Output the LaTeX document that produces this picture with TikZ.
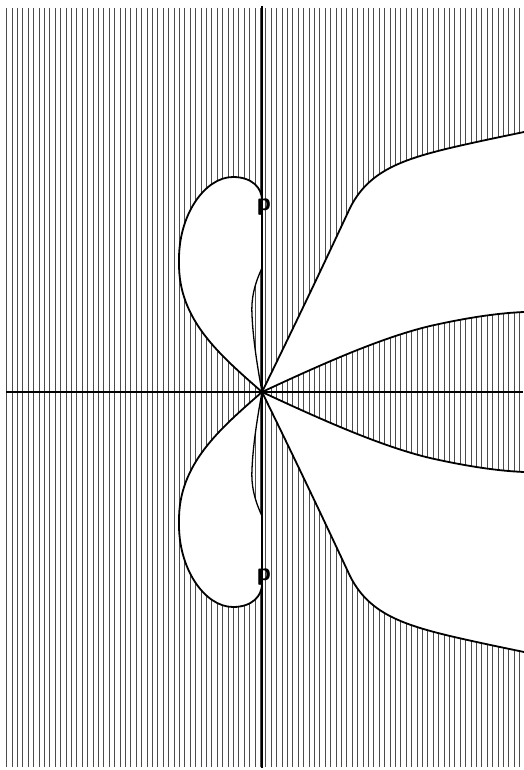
\documentclass[tikz,border=0pt]{standalone}
\begin{document}
\begin{tikzpicture}[x=1pt,y=-1pt,
  hatch/.style={line width=0.9pt,black!70},
  curve/.style={line width=1.8pt,line join=round,line cap=round},
  thin/.style={line width=1.3pt,line cap=round},
  axis/.style={line width=1.4pt},
  plabel/.style={font=\sffamily\bfseries\fontsize{25}{25}\selectfont,inner sep=0pt}]
\useasboundingbox (0,0) rectangle (523,770);
\coordinate (O) at (262,392);
% hatching
\foreach \i in {0,...,95}{
  \draw[hatch] ({6.7+5.4*\i},8) -- ({6.7+5.4*\i},767);
}
% white regions (upper half and its mirror)
\foreach \m in {0,1}{
\begin{scope}[yshift={-784*\m pt}, yscale={1-2*\m}]
  \fill[white] (262,392) .. controls (220,355) and (178,320) .. (179,262)
     .. controls (178,215) and (205,177) .. (233,177)
     .. controls (252,177) and (262,188) .. (262,200) -- (262,268)
     .. controls (254,285) and (251,300) .. (252,315)
     .. controls (253,340) and (258,370) .. (262,392) -- cycle;
  \fill[white] (262,392) .. controls (310,294) and (335,240) .. (350,208)
     .. controls (368,172) and (400,160) .. (450,148)
     .. controls (480,141) and (505,136) .. (524,132) -- (524,312)
     .. controls (500,313) and (470,317) .. (430,326)
     .. controls (380,338) and (320,365) .. (262,392) -- cycle;
\end{scope}
}
% boundary curves
\foreach \m in {0,1}{
\begin{scope}[yshift={-784*\m pt}, yscale={1-2*\m}]
  \draw[curve] (262,392) .. controls (220,355) and (178,320) .. (179,262)
     .. controls (178,215) and (205,177) .. (233,177)
     .. controls (252,177) and (262,188) .. (262,200);
  \draw[thin] (262,268) .. controls (254,285) and (251,300) .. (252,315)
     .. controls (253,340) and (258,370) .. (262,392);
  \draw[curve] (262,392) .. controls (310,294) and (335,240) .. (350,208)
     .. controls (368,172) and (400,160) .. (450,148)
     .. controls (480,141) and (505,136) .. (524,132);
  \draw[curve] (262,392) .. controls (320,365) and (380,338) .. (430,326)
     .. controls (470,317) and (500,313) .. (524,312);
\end{scope}
}
% axes
\draw[axis] (262,6) -- (262,768);
\draw[axis] (6,392) -- (523,392);
\fill (O) circle (2.2);
% labels
\node[plabel] (p1) at (264,207) {p};
\node[plabel] (p2) at (264,577) {p};
\end{tikzpicture}
\end{document}
